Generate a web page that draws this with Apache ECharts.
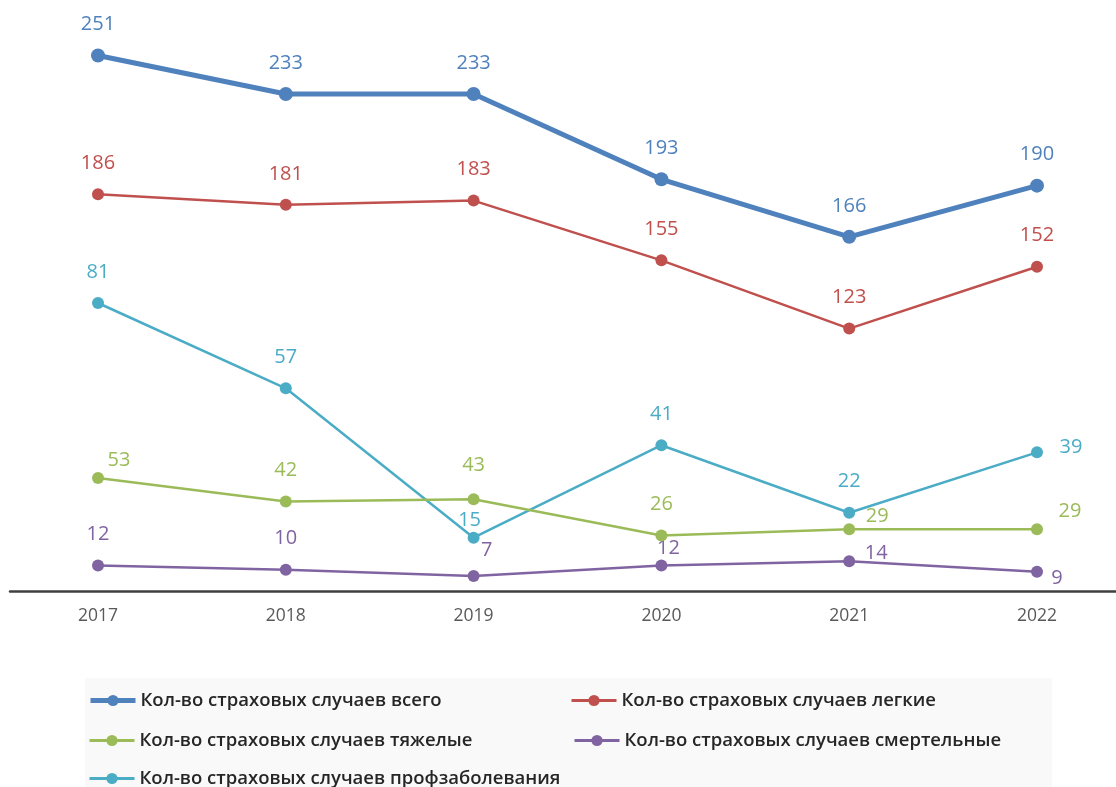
<!DOCTYPE html>
<html>
<head>
<meta charset="utf-8">
<script src="https://cdn.jsdelivr.net/npm/echarts@6/dist/echarts.min.js"></script>
<style>
  html, body { margin: 0; padding: 0; background: #fff; }
  #chart { width: 1116px; height: 787px; }
</style>
</head>
<body>
<div id="chart"></div>
<script>
// данные с картинки
const years = ['2017', '2018', '2019', '2020', '2021', '2022'];
const total = [251, 233, 233, 193, 166, 190];
const light = [186, 181, 183, 155, 123, 152];
const severe = [53, 42, 43, 26, 29, 29];
const fatal = [12, 10, 7, 12, 14, 9];
const occupational = [81, 57, 15, 41, 22, 39];

const names = [
    'Кол-во страховых случаев всего',
    'Кол-во страховых случаев легкие',
    'Кол-во страховых случаев тяжелые',
    'Кол-во страховых случаев смертельные',
    'Кол-во страховых случаев профзаболевания'
];
const colors = ['#4F81BD', '#C0504D', '#9BBB59', '#8064A2', '#4BACC6'];

// смещения подписей относительно точки
const up = [0, -31];
const offsets = [
    [up, up, up, up, up, up],
    [up, up, up, up, up, up],
    [[21, -18], up, [0, -34], up, [28, -13], [33, -18]],
    [up, up, [13, -26], [7, -17], [27, -8], [20, 6]],
    [up, up, [-4, -17], up, up, [34, -5]]
];

function makeSeries(idx, values, axis, width, size) {
    return {
        name: names[idx],
        type: 'line',
        yAxisIndex: axis,
        data: values.map((v, i) => ({
            value: v,
            label: { offset: offsets[idx][i] }
        })),
        symbol: 'circle',
        symbolSize: size,
        lineStyle: { width: width, color: colors[idx] },
        itemStyle: { color: colors[idx] },
        label: {
            show: true,
            position: 'inside',
            color: colors[idx],
            fontSize: 20,
            fontFamily: 'Open Sans'
        },
        z: 10 - idx
    };
}

function makeLegend(idx, left, top, lw) {
    return {
        data: [names[idx]],
        left: left,
        top: top,
        padding: 0,
        itemWidth: 45,
        itemHeight: 14,
        lineStyle: { width: lw },
        textStyle: { color: '#262626', fontSize: 18.5, fontWeight: 600, fontFamily: 'Open Sans' }
    };
}

const option = {
    animation: false,
    backgroundColor: '#fff',
    graphic: [{
        type: 'rect',
        shape: { x: 85, y: 678, width: 967, height: 120 },
        style: { fill: '#F9F9F9' },
        z: -1
    }],
    grid: [
        { left: 98, right: 79, top: 15, bottom: 196 },
        // сетка только для длинной оси X
        { left: 10, right: 0, top: 15, bottom: 196 }
    ],
    legend: [
        makeLegend(0, 88, 691, 5),
        makeLegend(1, 570, 691, 3),
        makeLegend(2, 88, 731, 3),
        makeLegend(3, 573, 731, 3),
        makeLegend(4, 88, 769, 3)
    ],
    xAxis: [
        {
            type: 'category',
            data: years,
            boundaryGap: false,
            axisLine: { show: false },
            axisTick: { show: false },
            axisLabel: { color: '#595959', fontSize: 17.5, margin: 16, fontFamily: 'Open Sans' }
        },
        {
            type: 'value',
            gridIndex: 1,
            min: 0,
            max: 1,
            axisLine: { show: true, lineStyle: { color: '#404040', width: 2.5 } },
            axisTick: { show: false },
            axisLabel: { show: false },
            splitLine: { show: false }
        }
    ],
    yAxis: [
        { type: 'value', min: 0, max: 270, show: false },
        { type: 'value', min: 0, max: 162, show: false },
        { type: 'value', gridIndex: 1, min: 0, max: 1, show: false }
    ],
    series: [
        makeSeries(0, total, 0, 5, 14),
        makeSeries(1, light, 0, 2.5, 12),
        makeSeries(2, severe, 0, 2.5, 12),
        makeSeries(3, fatal, 0, 2.5, 12),
        makeSeries(4, occupational, 1, 2.5, 12)
    ]
};

const myChart = echarts.init(document.getElementById('chart'));
myChart.setOption(option);
</script>
</body>
</html>
